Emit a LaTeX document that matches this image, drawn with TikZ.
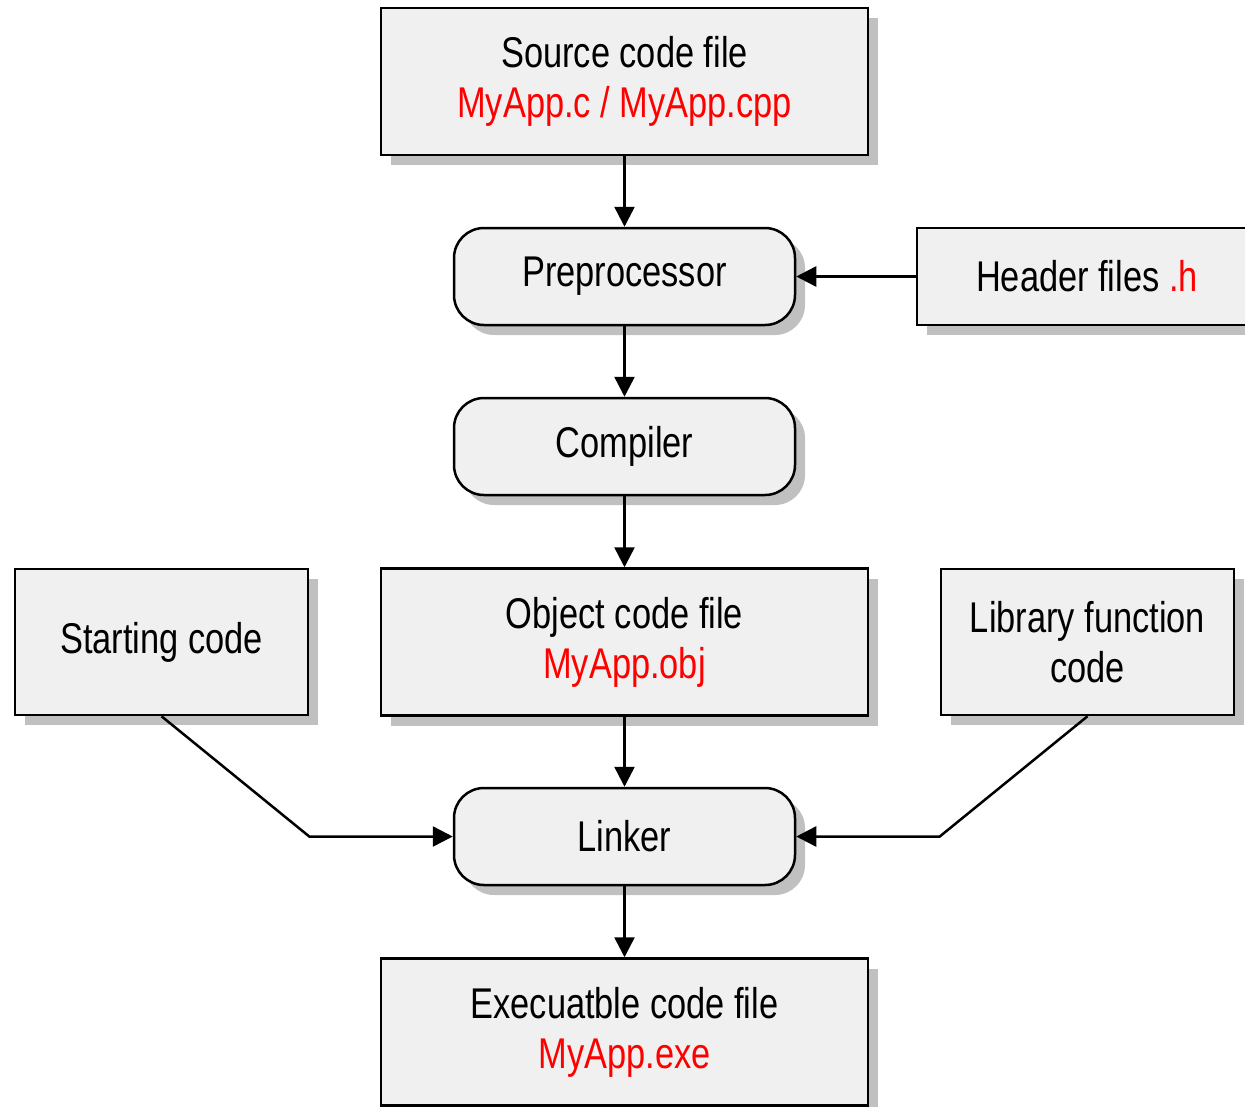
\documentclass[tikz,border=0pt]{standalone}
\usepackage{fontspec}
\setmainfont{Liberation Sans}[FakeStretch=0.8]
\usetikzlibrary{arrows.meta,shadows}

\definecolor{boxgray}{HTML}{F0F0F0}
\definecolor{shadowgray}{HTML}{C0C0C0}

\tikzset{
  basebox/.style={draw, line width=2.5pt, fill=boxgray, align=center, inner sep=0pt,
    font=\fontsize{43}{50}\selectfont,
    drop shadow={shadow xshift=10pt, shadow yshift=-10pt, fill=shadowgray, opacity=1}},
  filebox/.style={basebox, minimum width=487pt, minimum height=147pt},
  sidebox/.style={basebox, minimum width=293pt, minimum height=146pt},
  stagebox/.style={basebox, rounded corners=30pt, minimum width=341pt, minimum height=97pt},
  flow/.style={line width=2.5pt, -{Triangle[length=20pt,width=20pt]}}
}

\begin{document}
\begin{tikzpicture}[x=1pt,y=-1pt]
    \useasboundingbox (0,0) rectangle (1245,1106);

    % Main chain
    \node[filebox]  (src)  at (624.5, 81.5)  {Source code file\\\textcolor{red}{MyApp.c / MyApp.cpp}};
    \node[stagebox] (pre)  at (624.5, 276.5) {Preprocessor};
    \node[stagebox] (comp) at (624.5, 446.5) {Compiler};
    \node[filebox]  (obj)  at (624.5, 642)   {Object code file\\\textcolor{red}{MyApp.obj}};
    \node[stagebox] (link) at (624.5, 836.5) {Linker};
    \node[filebox]  (exe)  at (624.5, 1032)  {Execuatble code file\\\textcolor{red}{MyApp.exe}};

    % Side inputs
    \node[basebox, minimum width=340pt, minimum height=97pt] (head) at (1087, 276.5) {Header files \textcolor{red}{.h}};
    \node[sidebox] (start) at (161.5, 642)  {Starting code};
    \node[sidebox] (lib)   at (1087.5, 642) {Library function\\code};

    % Connectors
    \draw[flow] (src) -- (pre);
    \draw[flow] (pre) -- (comp);
    \draw[flow] (comp) -- (obj);
    \draw[flow] (obj) -- (link);
    \draw[flow] (link) -- (exe);
    \draw[flow] (head) -- (pre);
    \draw[flow] (start.south) -- (start.east |- link.west) -- (link.west);
    \draw[flow] (lib.south) -- (lib.west |- link.east) -- (link.east);

\end{tikzpicture}
\end{document}
